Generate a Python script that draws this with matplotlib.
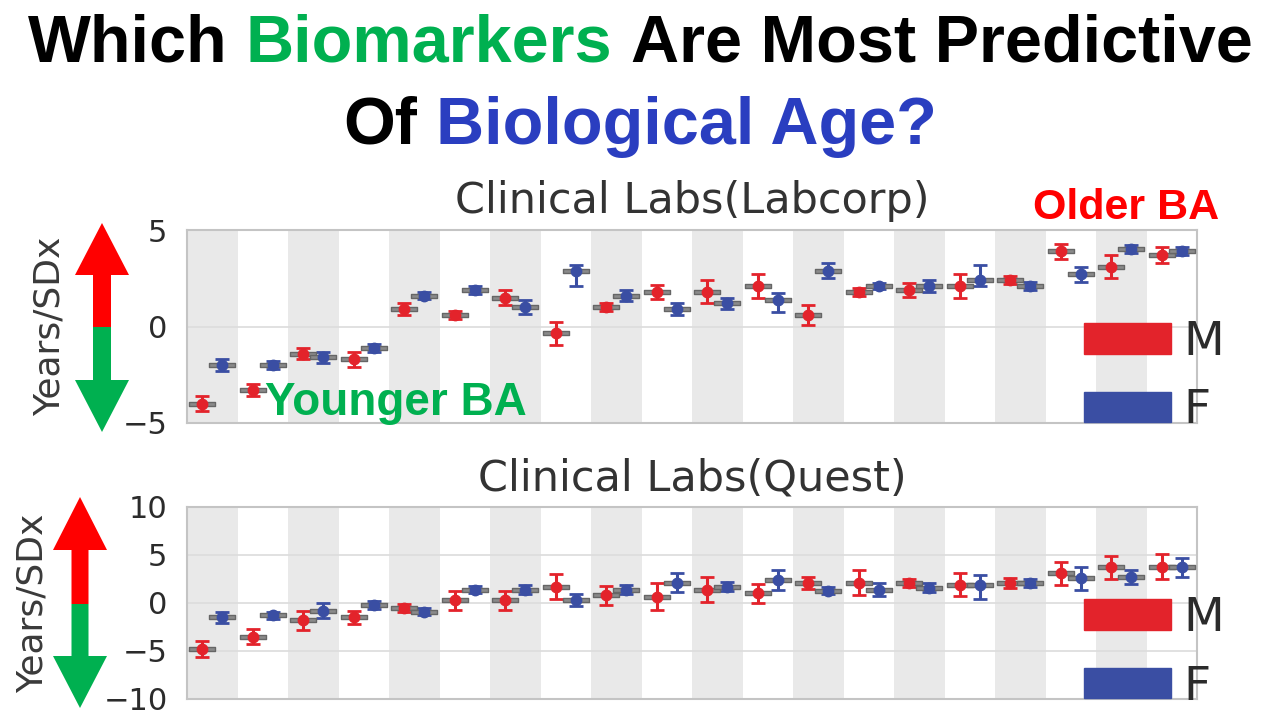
import numpy as np
import matplotlib
matplotlib.use("Agg")
import matplotlib.pyplot as plt
from matplotlib.patches import Patch, Polygon
from matplotlib.path import Path

plt.rcParams['font.family'] = ['DejaVu Sans']

# ---- data ----
groups = list(range(20))

# Clinical Labs (Labcorp): median, lower whisker, upper whisker (distances)
lab_m_med = [-4.0, -3.3, -1.4, -1.7, 0.9, 0.6, 1.5, -0.35, 1.0, 1.8,
             1.8, 2.1, 0.6, 1.8, 1.9, 2.1, 2.4, 3.9, 3.1, 3.7]
lab_m_lo = [0.4, 0.3, 0.3, 0.4, 0.3, 0.2, 0.4, 0.6, 0.2, 0.35,
            0.6, 0.6, 0.5, 0.2, 0.35, 0.6, 0.2, 0.4, 0.6, 0.4]
lab_m_hi = [0.4, 0.3, 0.3, 0.4, 0.3, 0.2, 0.4, 0.6, 0.2, 0.35,
            0.6, 0.6, 0.5, 0.2, 0.35, 0.6, 0.2, 0.4, 0.6, 0.4]
lab_f_med = [-2.0, -2.0, -1.6, -1.1, 1.6, 1.9, 1.0, 2.9, 1.6, 0.9,
             1.2, 1.35, 2.9, 2.1, 2.1, 2.4, 2.1, 2.7, 4.0, 3.9]
lab_f_lo = [0.3, 0.2, 0.3, 0.2, 0.2, 0.2, 0.35, 0.8, 0.3, 0.3,
            0.3, 0.6, 0.4, 0.15, 0.3, 0.3, 0.2, 0.4, 0.2, 0.2]
lab_f_hi = [0.3, 0.2, 0.3, 0.2, 0.2, 0.2, 0.35, 0.3, 0.3, 0.3,
            0.3, 0.4, 0.4, 0.15, 0.3, 0.8, 0.2, 0.4, 0.2, 0.2]

# Clinical Labs (Quest)
qst_m_med = [-4.8, -3.5, -1.8, -1.5, -0.5, 0.3, 0.3, 1.7, 0.8, 0.6,
             1.4, 1.0, 2.1, 2.1, 2.1, 1.9, 2.1, 3.1, 3.7, 3.8]
qst_m_lo = [0.8, 0.8, 1.0, 0.7, 0.4, 1.0, 1.0, 1.3, 1.0, 1.3,
            1.3, 1.0, 0.6, 1.3, 0.4, 1.2, 0.5, 1.2, 1.2, 1.3]
qst_m_hi = [0.8, 0.8, 1.0, 0.7, 0.4, 1.0, 1.0, 1.3, 1.0, 1.5,
            1.3, 1.0, 0.6, 1.3, 0.4, 1.2, 0.5, 1.2, 1.2, 1.3]
qst_f_med = [-1.5, -1.3, -0.8, -0.2, -0.9, 1.4, 1.4, 0.3, 1.4, 2.1,
             1.7, 2.4, 1.3, 1.4, 1.6, 1.9, 2.1, 2.6, 2.7, 3.7]
qst_f_lo = [0.6, 0.4, 0.8, 0.4, 0.4, 0.4, 0.5, 0.6, 0.5, 1.0,
            0.5, 1.0, 0.4, 0.7, 0.5, 1.5, 0.4, 1.2, 0.7, 1.0]
qst_f_hi = [0.6, 0.4, 0.8, 0.4, 0.4, 0.4, 0.5, 0.6, 0.5, 1.0,
            0.5, 1.0, 0.4, 0.7, 0.5, 1.0, 0.4, 1.2, 0.7, 1.0]

top_ticks = [-5, 0, 5]
bot_ticks = [-10, -5, 0, 5, 10]

RED = '#e3232b'
BLUE = '#3a4ea3'
EDGE = '#666666'
TXT = '#2b2b2b'

# thin flat rectangle marker for the box
box_marker = Path([(-1, -0.13), (1, -0.13), (1, 0.13), (-1, 0.13), (-1, -0.13)],
                  [Path.MOVETO, Path.LINETO, Path.LINETO, Path.LINETO, Path.CLOSEPOLY])

fig = plt.figure(figsize=(12.8, 7.2), dpi=100)


def draw_panel(ax, m_med, m_lo, m_hi, f_med, f_lo, f_hi, ylim, ticks, title):
    x = np.array(groups)
    for g in groups[::2]:
        ax.axvspan(g - 0.5, g + 0.5, color='#e9e9e9', lw=0, zorder=0)
    for xs, med, lo, hi, col in [(x - 0.2, m_med, m_lo, m_hi, RED),
                                 (x + 0.2, f_med, f_lo, f_hi, BLUE)]:
        eb = ax.errorbar(xs, med, yerr=[lo, hi], fmt='none', ecolor=col,
                         elinewidth=2.2, capsize=5, capthick=2, zorder=3)
        for cap in eb[1]:
            cap.set_color(EDGE)
        ax.plot(xs, med, ls='none', marker=box_marker, ms=19, mfc='#8a8a8a',
                mec=EDGE, mew=1.0, zorder=4)
        ax.plot(xs, med, ls='none', marker='o', ms=7.5, color=col, zorder=5)
    ax.set_xlim(-0.5, 19.5)
    ax.set_ylim(*ylim)
    ax.set_yticks(ticks)
    ax.set_yticklabels([str(t).replace('-', '\u2212') for t in ticks])
    ax.set_xticks([])
    ax.yaxis.grid(True, color='#dcdcdc', lw=1.2, zorder=1)
    ax.set_axisbelow(True)
    ax.tick_params(axis='y', length=0, pad=14, labelsize=22, labelcolor=TXT)
    for sp in ax.spines.values():
        sp.set_color('#c4c4c4')
        sp.set_linewidth(1.5)
    ax.set_title(title, fontsize=31, color='#333333', pad=12)
    leg = ax.legend(handles=[Patch(fc=RED, ec=RED, label='M'),
                             Patch(fc=BLUE, ec=BLUE, label='F')],
                    loc='center left', bbox_to_anchor=(0.888, 0.24),
                    frameon=False, fontsize=34, handlelength=1.85,
                    handleheight=0.62, handletextpad=0.25, labelspacing=0.5,
                    borderpad=0, borderaxespad=0)
    for t in leg.get_texts():
        t.set_color(TXT)


ax1 = fig.add_axes([187 / 1280, 1 - 423 / 720, 1010 / 1280, 193 / 720])
draw_panel(ax1, lab_m_med, lab_m_lo, lab_m_hi, lab_f_med, lab_f_lo, lab_f_hi,
           (-5, 5), top_ticks, 'Clinical Labs(Labcorp)')
ax1.set_ylabel('Years/SDx', fontsize=26, color='#3a3a3a')
ax1.yaxis.set_label_coords(-120 / 1010, 0.5)

ax2 = fig.add_axes([187 / 1280, 1 - 699 / 720, 1010 / 1280, 192 / 720])
draw_panel(ax2, qst_m_med, qst_m_lo, qst_m_hi, qst_f_med, qst_f_lo, qst_f_hi,
           (-10, 10), bot_ticks, 'Clinical Labs(Quest)')
ax2.set_ylabel('Years/SDx', fontsize=26, color='#3a3a3a')
ax2.yaxis.set_label_coords(-137 / 1010, 0.5)

# overlay in pixel units for the headline, arrows and annotations
ov = fig.add_axes([0, 0, 1, 1], zorder=10)
ov.set_xlim(0, 1280)
ov.set_ylim(720, 0)
ov.axis('off')


def arrow(cx, tip, head_base, split, head_base2, tip2, hw, sw):
    up = [(cx, tip), (cx + hw, head_base), (cx + sw, head_base), (cx + sw, split),
          (cx - sw, split), (cx - sw, head_base), (cx - hw, head_base)]
    dn = [(cx, tip2), (cx + hw, head_base2), (cx + sw, head_base2), (cx + sw, split),
          (cx - sw, split), (cx - sw, head_base2), (cx - hw, head_base2)]
    ov.add_patch(Polygon(up, closed=True, fc='#ff0000', ec='none'))
    ov.add_patch(Polygon(dn, closed=True, fc='#00b050', ec='none'))


arrow(102, 223, 275, 327, 380, 432, 27, 9)
arrow(80, 497, 550, 604, 656, 708, 27, 8.5)

HFONT = 'Liberation Sans'


def colored_line(y, parts, size):
    texts = [ov.text(0, y, s, color=c, fontsize=size, fontweight='bold',
                     family=HFONT, va='center', ha='left') for s, c in parts]
    sp = ov.text(0, 0, 'x x', fontsize=size, fontweight='bold', family=HFONT)
    sp2 = ov.text(0, 0, 'xx', fontsize=size, fontweight='bold', family=HFONT)
    fig.canvas.draw()
    r = fig.canvas.get_renderer()
    space = sp.get_window_extent(r).width - sp2.get_window_extent(r).width
    sp.remove()
    sp2.remove()
    widths = [t.get_window_extent(r).width for t in texts]
    total = sum(widths) + space * (len(texts) - 1)
    x = 640 - total / 2
    for t, w in zip(texts, widths):
        t.set_x(x)
        x += w + space


colored_line(45, [('Which', 'black'), ('Biomarkers', '#00b050'),
                  ('Are Most Predictive', 'black')], 48)
colored_line(127, [('Of', 'black'), ('Biological Age?', '#2a3ec0')], 48)

ov.text(265, 403, 'Younger BA', color='#00b050', fontsize=33, fontweight='bold',
        family=HFONT, va='center', ha='left')
ov.text(1033, 208, 'Older BA', color='#ff0000', fontsize=31, fontweight='bold',
        family=HFONT, va='center', ha='left')

fig.savefig('out.png', dpi=100, facecolor='white')
